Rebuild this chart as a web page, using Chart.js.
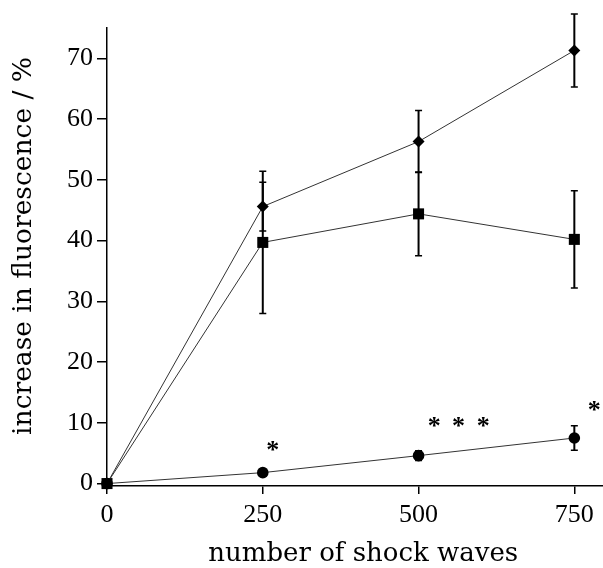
<!DOCTYPE html>
<html><head><meta charset="utf-8">
<script src="https://cdn.jsdelivr.net/npm/chart.js@4"></script>
<style>html,body{margin:0;padding:0;background:#fff}#wrap{width:603px;height:568px}</style>
</head><body><div id="wrap"><canvas id="c" width="603" height="568"></canvas></div>
<script>
// ---- data ----
const shockWaves = [0, 250, 500, 750];
const diamondMean = [0, 45.6, 56.3, 71.3];
const diamondErr  = [0, 4.0, 5.1, 6.0];
const squareMean  = [0, 39.7, 44.4, 40.2];
const squareErr   = [0, 11.7, 6.9, 8.0];
const circleMean  = [0, 1.8, 4.6, 7.5];
const circleErr   = [0, 0.6, 0.8, 2.0];
const xTickValues = [0, 250, 500, 750];
const yTickValues = [0, 10, 20, 30, 40, 50, 60, 70];
// significance asterisks (data coordinates)
const starX = [266, 525, 564, 604, 782];
const starY = [6.2, 10.1, 10.1, 10.1, 12.7];

const errors = [diamondErr, squareErr, circleErr];
const toPts = (ys) => shockWaves.map((x, i) => ({x: x, y: ys[i]}));

const errorBars = {
  id: 'errorBars',
  afterDatasetsDraw(chart) {
    const ctx = chart.ctx, xs = chart.scales.x, ys = chart.scales.y;
    ctx.save();
    ctx.strokeStyle = '#000';
    chart.data.datasets.forEach((ds, di) => {
      ds.data.forEach((p, i) => {
        const e = errors[di][i];
        if (!e) return;
        const px = xs.getPixelForValue(p.x);
        const top = ys.getPixelForValue(p.y + e);
        const bot = ys.getPixelForValue(p.y - e);
        ctx.lineWidth = 2;
        ctx.beginPath();
        ctx.moveTo(px, top); ctx.lineTo(px, bot);
        ctx.stroke();
        ctx.lineWidth = 1.5;
        ctx.beginPath();
        ctx.moveTo(px - 3.5, top); ctx.lineTo(px + 3.5, top);
        ctx.moveTo(px - 3.5, bot); ctx.lineTo(px + 3.5, bot);
        ctx.stroke();
      });
    });
    ctx.restore();
  }
};

const stars = {
  id: 'stars',
  afterDraw(chart) {
    const ctx = chart.ctx, xs = chart.scales.x, ys = chart.scales.y;
    ctx.save();
    ctx.fillStyle = '#000';
    ctx.font = 'bold 26px "Liberation Serif"';
    ctx.textAlign = 'center';
    ctx.textBaseline = 'alphabetic';
    const m = ctx.measureText('*');
    const off = (m.actualBoundingBoxAscent - m.actualBoundingBoxDescent) / 2;
    starX.forEach((x, i) => {
      ctx.fillText('*', xs.getPixelForValue(x), ys.getPixelForValue(starY[i]) + off);
    });
    ctx.restore();
  }
};

const lineStyle = {borderColor: '#333', borderWidth: 1, pointBackgroundColor: '#000', pointBorderColor: '#000', pointBorderWidth: 0, showLine: true, fill: false, tension: 0, clip: false};

new Chart(document.getElementById('c'), {
  type: 'scatter',
  data: {
    datasets: [
      Object.assign({label: 'diamond', data: toPts(diamondMean), pointStyle: 'rectRot', pointRadius: 6, order: 2}, lineStyle),
      Object.assign({label: 'square', data: toPts(squareMean), pointStyle: 'rect', pointRadius: 7.8, order: 3}, lineStyle),
      Object.assign({label: 'circle', data: toPts(circleMean), pointStyle: 'circle', pointRadius: 5.8, order: 1}, lineStyle)
    ]
  },
  options: {
    responsive: false,
    animation: false,
    devicePixelRatio: 1,
    layout: {autoPadding: false, padding: {left: 0, top: 28, right: 0, bottom: 0}},
    plugins: {legend: {display: false}, tooltip: {enabled: false}},
    scales: {
      x: {
        type: 'linear', min: 0, max: 796,
        afterBuildTicks: (s) => { s.ticks = xTickValues.map(v => ({value: v})); },
        afterFit: (s) => { s.height = 82; s.paddingRight = 0; s.paddingLeft = 0; },
        grid: {drawOnChartArea: false, drawTicks: true, tickLength: 8, color: '#000', lineWidth: 1.5},
        border: {color: '#000', width: 1.5},
        ticks: {color: '#000', font: {family: '"Liberation Serif"', size: 26}, padding: 6, maxRotation: 0},
        title: {display: true, text: '  number of shock waves', color: '#000', font: {family: '"DejaVu Serif"', size: 26, lineHeight: 1.0}, padding: {top: 0, bottom: 1}}
      },
      y: {
        min: -0.4, max: 75,
        afterBuildTicks: (s) => { s.ticks = yTickValues.map(v => ({value: v})); },
        afterFit: (s) => { s.width = 107; },
        grid: {drawOnChartArea: false, drawTicks: true, tickLength: 10, color: '#000', lineWidth: 1.5},
        border: {color: '#000', width: 1.5},
        ticks: {color: '#000', font: {family: '"Liberation Serif"', size: 26}, padding: 4},
        title: {display: true, text: '  \u2009increase in fluorescence / %', color: '#000', font: {family: '"DejaVu Serif"', size: 26.5}, padding: {top: 8, bottom: 0}}
      }
    }
  },
  plugins: [errorBars, stars]
});
</script>
</body></html>
